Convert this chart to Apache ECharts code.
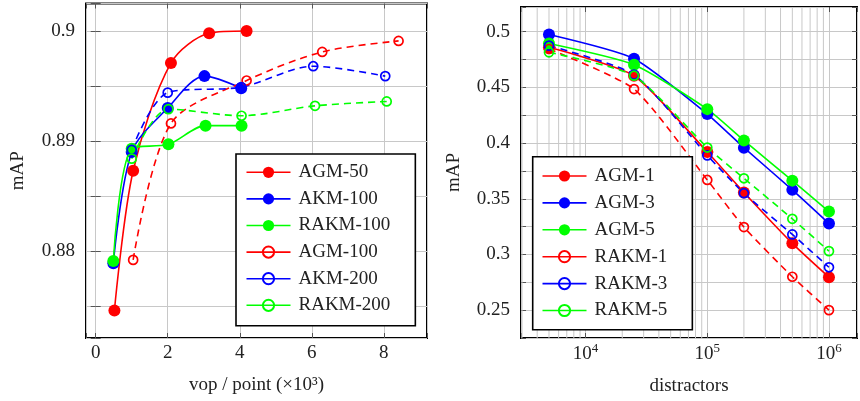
<!DOCTYPE html>
<html><head><meta charset="utf-8">
<script src="https://cdn.jsdelivr.net/npm/echarts@6/dist/echarts.min.js"></script>
<style>html,body{margin:0;padding:0;background:#fff}#c{width:860px;height:401px}</style>
</head><body><div id="c"></div>
<script>
// ---------- Left chart data (x: vop / point ×10^3, y: mAP) ----------
const leftNames = ['AGM-50', 'AKM-100', 'RAKM-100', 'AGM-100', 'AKM-200', 'RAKM-200'];
const vopAGM50 = [0.52, 1.04, 2.09, 3.15, 4.19];
const mapAGM50 = [0.8746, 0.8873, 0.8971, 0.8998, 0.9000];
const vopAKM100 = [0.49, 1.0, 2.0, 3.02, 4.04];
const mapAKM100 = [0.8789, 0.8890, 0.8930, 0.8959, 0.8948];
const vopRAKM100 = [0.49, 1.0, 2.02, 3.05, 4.05];
const mapRAKM100 = [0.8791, 0.8893, 0.8897, 0.8914, 0.8914];
const vopAGM100 = [1.04, 2.09, 4.19, 6.29, 8.41];
const mapAGM100 = [0.8792, 0.8916, 0.8955, 0.8981, 0.8991];
const vopAKM200 = [1.0, 2.0, 4.04, 6.04, 8.04];
const mapAKM200 = [0.8892, 0.8944, 0.8949, 0.8968, 0.8959];
const vopRAKM200 = [1.0, 2.02, 4.05, 6.09, 8.08];
const mapRAKM200 = [0.8884, 0.8929, 0.8923, 0.8932, 0.8936];

// ---------- Right chart data (x: distractors, y: mAP) ----------
const rightNames = ['AGM-1', 'AGM-3', 'AGM-5', 'RAKM-1', 'RAKM-3', 'RAKM-5'];
const distractors = [5000, 25000, 100000, 200000, 500000, 1000000];
const mapAGM1 = [0.486, 0.4605, 0.392, 0.3557, 0.310, 0.2796];
const mapAGM3 = [0.4975, 0.4758, 0.4261, 0.3959, 0.358, 0.3278];
const mapAGM5 = [0.4895, 0.4704, 0.4305, 0.4024, 0.3663, 0.3385];
const mapRAKM1 = [0.4845, 0.4485, 0.3669, 0.3246, 0.2800, 0.2500];
const mapRAKM3 = [0.4875, 0.4615, 0.389, 0.355, 0.318, 0.2885];
const mapRAKM5 = [0.4815, 0.4605, 0.396, 0.3684, 0.332, 0.3030];
const minorDistractorTicks = [3000, 4000, 5000, 6000, 7000, 8000, 9000,
  20000, 30000, 40000, 50000, 60000, 70000, 80000, 90000,
  200000, 300000, 400000, 500000, 600000, 700000, 800000, 900000];

// ---------- Styling ----------
const F = 'Liberation Serif';
const RED = '#ff0000', BLUE = '#0000ff', GREEN = '#00ff00';
const GRIDC = '#c8c8c8';
const LX = [-0.269, 9.199], LY = [0.8721, 0.9025];
const RX = [2944, 1700000], RY = [0.225, 0.5222];

function mk(name, xs, ys, color, filled, dashed, ax, smooth) {
  return {
    name, type: 'line', xAxisIndex: ax, yAxisIndex: ax,
    data: xs.map((x, i) => [x, ys[i]]),
    smooth: smooth,
    symbol: 'circle',
    symbolSize: filled ? 12 : 9,
    lineStyle: { color, width: 1.6, type: dashed ? [7, 5] : 'solid' },
    itemStyle: filled ? { color, borderWidth: 0 }
                      : { color: 'rgba(255,255,255,0)', borderColor: color, borderWidth: 1.7 },
    z: 3, animation: false, silent: true
  };
}

const tickCommon = { show: true, inside: true, length: 5, lineStyle: { color: '#555', width: 1 } };
const labelFont = { fontFamily: F, fontSize: 19, color: '#222' };

function legendCfg(names, left, top, pad, gap) {
  return {
    data: names, orient: 'vertical', left, top,
    backgroundColor: '#fff', borderColor: '#000', borderWidth: 1.6,
    itemWidth: 44, itemHeight: 14, itemGap: gap, padding: pad,
    textStyle: { fontFamily: F, fontSize: 19, color: '#222', lineHeight: 20, padding: [0, 0, 0, 3] },
    lineStyle: { type: 'solid', width: 1.6 },
    selectedMode: false
  };
}

const option = {
  animation: false,
  backgroundColor: '#fff',
  grid: [
    { left: 86, top: 3.5, width: 341, height: 334.5, show: true, borderColor: '#000', borderWidth: 2, backgroundColor: 'transparent' },
    { left: 521, top: 7, width: 341.5, height: 334, show: true, borderColor: '#000', borderWidth: 2, backgroundColor: 'transparent' }
  ],
  xAxis: [
    { type: 'value', gridIndex: 0, position: 'bottom', min: LX[0], max: LX[1], splitNumber: 5, minInterval: 2, maxInterval: 2,
      axisLine: { show: false }, axisTick: tickCommon,
      splitLine: { show: true, lineStyle: { color: GRIDC, width: 1 } },
      axisLabel: Object.assign({ margin: 6, formatter: v => {
        const r = Math.round(v);
        return (Math.abs(v - r) < 1e-6 && r % 2 === 0 && r >= 0 && r <= 8) ? String(r) : '';
      } }, labelFont),
      name: 'vop / point (×10³)', nameLocation: 'middle', nameGap: 38,
      nameTextStyle: { fontFamily: F, fontSize: 19, color: '#222' } },
    { type: 'value', gridIndex: 0, position: 'top', min: LX[0], max: LX[1], splitNumber: 5, minInterval: 2, maxInterval: 2,
      axisLine: { show: false }, axisTick: tickCommon, splitLine: { show: false }, axisLabel: { show: false } },
    { type: 'log', logBase: 10, gridIndex: 1, position: 'bottom', min: RX[0], max: RX[1], splitNumber: 3,
      axisLine: { show: false }, axisTick: tickCommon,
      splitLine: { show: true, lineStyle: { color: GRIDC, width: 1 } },
      axisLabel: { margin: 6, formatter: v => {
        const e = Math.log10(v); const r = Math.round(e);
        return Math.abs(e - r) < 1e-6 ? '{b|10}{s|' + r + '}' : '';
      }, rich: {
        b: { fontFamily: F, fontSize: 19, color: '#222', lineHeight: 20, verticalAlign: 'bottom' },
        s: { fontFamily: F, fontSize: 13, color: '#222', lineHeight: 14, verticalAlign: 'bottom', padding: [0, 0, 9, 0] }
      } },
      name: 'distractors', nameLocation: 'middle', nameGap: 39,
      nameTextStyle: { fontFamily: F, fontSize: 19, color: '#222' } },
    { type: 'log', logBase: 10, gridIndex: 1, position: 'top', min: RX[0], max: RX[1], splitNumber: 3,
      axisLine: { show: false }, axisTick: tickCommon, splitLine: { show: false }, axisLabel: { show: false } }
  ],
  yAxis: [
    { type: 'value', gridIndex: 0, position: 'left', min: LY[0], max: LY[1], splitNumber: 6, minInterval: 0.005, maxInterval: 0.005,
      axisLine: { show: false }, axisTick: tickCommon,
      splitLine: { show: true, lineStyle: { color: GRIDC, width: 1 } },
      axisLabel: Object.assign({ margin: 11, formatter: v => {
        const r = Math.round(v * 100);
        return Math.abs(v * 100 - r) < 1e-6 ? String(+(r / 100).toFixed(2)) : '';
      } }, labelFont),
      name: 'mAP', nameLocation: 'middle', nameGap: 58,
      nameTextStyle: { fontFamily: F, fontSize: 19, color: '#222' } },
    { type: 'value', gridIndex: 0, position: 'right', min: LY[0], max: LY[1], splitNumber: 6, minInterval: 0.005, maxInterval: 0.005,
      axisLine: { show: false }, axisTick: tickCommon, splitLine: { show: false }, axisLabel: { show: false } },
    { type: 'value', gridIndex: 1, position: 'left', min: RY[0], max: RY[1], interval: 0.025,
      axisLine: { show: false }, axisTick: tickCommon,
      splitLine: { show: true, lineStyle: { color: GRIDC, width: 1 } },
      axisLabel: Object.assign({ margin: 11, formatter: v => {
        const r = Math.round(v * 20);
        return (Math.abs(v * 20 - r) < 1e-6 && v > 0.24 && v < 0.51) ? String(+(r / 20).toFixed(2)) : '';
      } }, labelFont),
      name: 'mAP', nameLocation: 'middle', nameGap: 57,
      nameTextStyle: { fontFamily: F, fontSize: 19, color: '#222' } },
    { type: 'value', gridIndex: 1, position: 'right', min: RY[0], max: RY[1], interval: 0.025,
      axisLine: { show: false }, axisTick: tickCommon, splitLine: { show: false }, axisLabel: { show: false } }
  ],
  legend: [
    legendCfg(leftNames, 236, 154, [8.3, 25, 10.4, 9.7], 6.6),
    legendCfg(rightNames, 532.7, 156.7, [9.3, 25, 9.3, 9], 6.9)
  ],
  series: [
    {
      type: 'custom', name: 'minorgrid', xAxisIndex: 2, yAxisIndex: 2, z: 1, silent: true,
      data: minorDistractorTicks.map(v => [v, RY[0]]),
      renderItem: (params, api) => {
        const x = api.value(0);
        const p1 = api.coord([x, RY[1]]);
        const p2 = api.coord([x, RY[0]]);
        return { type: 'line', shape: { x1: p1[0], y1: p1[1], x2: p2[0], y2: p2[1] },
                 style: { stroke: GRIDC, lineWidth: 1 }, silent: true };
      }
    },
    mk('AGM-50', vopAGM50, mapAGM50, RED, true, false, 0, 0.3),
    mk('AKM-100', vopAKM100, mapAKM100, BLUE, true, false, 0, 0.3),
    mk('RAKM-100', vopRAKM100, mapRAKM100, GREEN, true, false, 0, 0.3),
    mk('AGM-100', vopAGM100, mapAGM100, RED, false, true, 0, 0.3),
    mk('AKM-200', vopAKM200, mapAKM200, BLUE, false, true, 0, 0.3),
    mk('RAKM-200', vopRAKM200, mapRAKM200, GREEN, false, true, 0, 0.3),
    mk('AGM-1', distractors, mapAGM1, RED, true, false, 2, 0.2),
    mk('AGM-3', distractors, mapAGM3, BLUE, true, false, 2, 0.2),
    mk('AGM-5', distractors, mapAGM5, GREEN, true, false, 2, 0.2),
    mk('RAKM-1', distractors, mapRAKM1, RED, false, true, 2, 0.2),
    mk('RAKM-3', distractors, mapRAKM3, BLUE, false, true, 2, 0.2),
    mk('RAKM-5', distractors, mapRAKM5, GREEN, false, true, 2, 0.2)
  ]
};

const chart = echarts.init(document.getElementById('c'), null, { renderer: 'canvas' });
chart.setOption(option);
</script>
</body></html>
